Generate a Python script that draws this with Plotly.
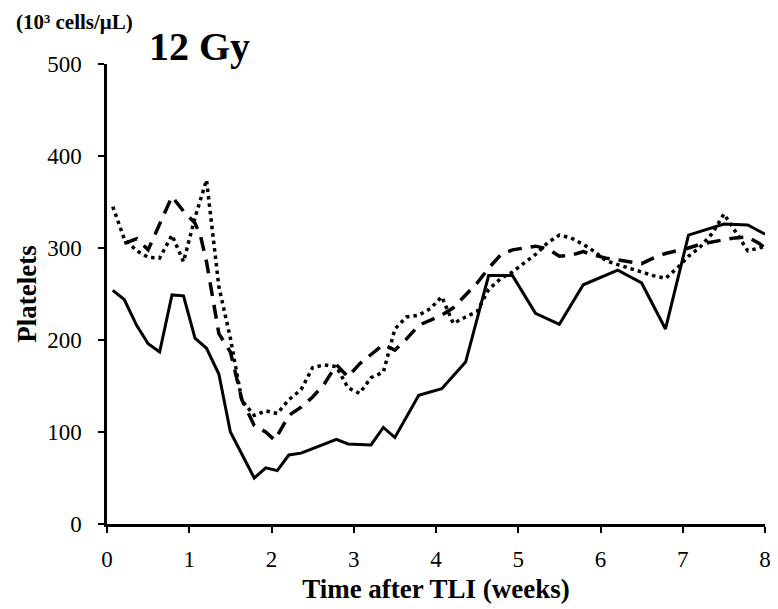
import plotly.graph_objects as go

# Time after TLI (weeks) and platelet counts (10^3 cells/uL)
x_solid = [0.07, 0.21, 0.36, 0.50, 0.64, 0.79, 0.93, 1.07, 1.21, 1.36, 1.50, 1.64, 1.79, 1.93,
           2.07, 2.21, 2.36, 2.50, 2.64, 2.79, 2.93, 3.21, 3.36, 3.50, 3.79, 4.07, 4.36, 4.64,
           4.93, 5.21, 5.50, 5.79, 6.21, 6.50, 6.79, 7.07, 7.50, 7.79, 8.00]
y_solid = [254, 244, 216, 196, 187, 249, 248, 202, 191, 163, 100, 75, 50, 61,
           58, 75, 77, 82, 87, 92, 87, 86, 105, 94, 140, 147, 176, 270,
           270, 229, 217, 260, 276, 262, 212, 314, 326, 325, 315]

x_dash = [0.21, 0.36, 0.50, 0.64, 0.79, 0.93, 1.07, 1.14, 1.21, 1.36, 1.50, 1.64, 1.79, 1.93,
          2.04, 2.21, 2.36, 2.50, 2.64, 2.79, 2.93, 3.07, 3.21, 3.36, 3.50, 3.64, 3.79, 3.93,
          4.07, 4.21, 4.36, 4.50, 4.64, 4.79, 4.93, 5.07, 5.21, 5.36, 5.50, 5.64, 5.79, 5.93,
          6.07, 6.21, 6.36, 6.50, 6.64, 6.79, 6.93, 7.07, 7.21, 7.36, 7.50, 7.64, 7.79, 7.93, 8.00]
y_dash = [305, 310, 298, 327, 356, 340, 327, 312, 285, 207, 187, 135, 107, 100,
          91, 118, 127, 138, 152, 173, 160, 174, 184, 195, 189, 201, 216, 222,
          227, 235, 249, 262, 278, 293, 298, 300, 302, 299, 291, 292, 296, 292,
          289, 287, 285, 283, 289, 294, 297, 300, 304, 307, 309, 311, 312, 305, 300]

x_dot = [0.07, 0.21, 0.36, 0.50, 0.64, 0.79, 0.93, 1.07, 1.21, 1.36, 1.50, 1.64, 1.79, 1.93,
         2.07, 2.21, 2.36, 2.50, 2.64, 2.79, 2.93, 3.07, 3.21, 3.36, 3.50, 3.64, 3.79, 3.93,
         4.07, 4.21, 4.36, 4.50, 4.64, 4.79, 4.93, 5.07, 5.21, 5.36, 5.50, 5.64, 5.79, 5.93,
         6.07, 6.21, 6.36, 6.50, 6.64, 6.79, 6.93, 7.07, 7.21, 7.36, 7.50, 7.64, 7.79, 7.93, 8.00]
y_dot = [345, 310, 297, 290, 289, 314, 285, 333, 374, 258, 202, 134, 118, 123,
         120, 135, 146, 170, 173, 171, 148, 142, 159, 165, 212, 225, 227, 234,
         247, 218, 225, 231, 255, 267, 274, 283, 293, 306, 314, 311, 304, 296,
         286, 282, 278, 274, 270, 267, 278, 291, 301, 316, 337, 318, 297, 300, 302]

x_ticks = [0, 1, 2, 3, 4, 5, 6, 7, 8]
y_ticks = [0, 100, 200, 300, 400, 500]

SERIF = "Liberation Serif, Times New Roman, serif"

fig = go.Figure()
fig.add_trace(go.Scatter(x=x_solid, y=y_solid, mode="lines",
                         line=dict(color="black", width=3), showlegend=False))
fig.add_trace(go.Scatter(x=x_dash, y=y_dash, mode="lines",
                         line=dict(color="black", width=3.5, dash="14px,9px"), showlegend=False))
fig.add_trace(go.Scatter(x=x_dot, y=y_dot, mode="lines",
                         line=dict(color="black", width=3.5, dash="3.5px,4px"), showlegend=False))

fig.update_layout(
    width=778, height=609,
    margin=dict(l=107, r=7, t=64, b=85),
    paper_bgcolor="white", plot_bgcolor="white",
    font=dict(family=SERIF, size=23, color="black"),
    xaxis=dict(range=[0, 8], tickvals=x_ticks, ticktext=[str(v) for v in x_ticks],
               showgrid=False, zeroline=False, showline=True, linecolor="black", linewidth=2.5,
               ticks="outside", ticklen=6, tickwidth=2, tickcolor="black",
               ticklabelstandoff=7, tickfont=dict(family=SERIF, size=23),
               title=dict(text="<b>Time after TLI (weeks)</b>", standoff=8,
                          font=dict(family=SERIF, size=27))),
    yaxis=dict(range=[0, 500], tickvals=y_ticks, ticktext=[str(v) for v in y_ticks],
               showgrid=False, zeroline=False, showline=True, linecolor="black", linewidth=2.5,
               ticks="outside", ticklen=6, tickwidth=2, tickcolor="black",
               ticklabelstandoff=12, tickfont=dict(family=SERIF, size=23),
               title=dict(text="<b>Platelets</b>", standoff=3,
                          font=dict(family=SERIF, size=27))),
)

fig.add_annotation(text="<b>(10³ cells/μL)</b>", xref="paper", yref="paper",
                   x=-0.1416, y=1.0913, xanchor="left", yanchor="middle", showarrow=False,
                   font=dict(family=SERIF, size=21, color="black"))
fig.add_annotation(text="<b>12 Gy</b>", xref="paper", yref="paper",
                   x=0.14, y=1.037, xanchor="center", yanchor="middle", showarrow=False,
                   font=dict(family=SERIF, size=40, color="black"))

fig.write_html("out.html")
